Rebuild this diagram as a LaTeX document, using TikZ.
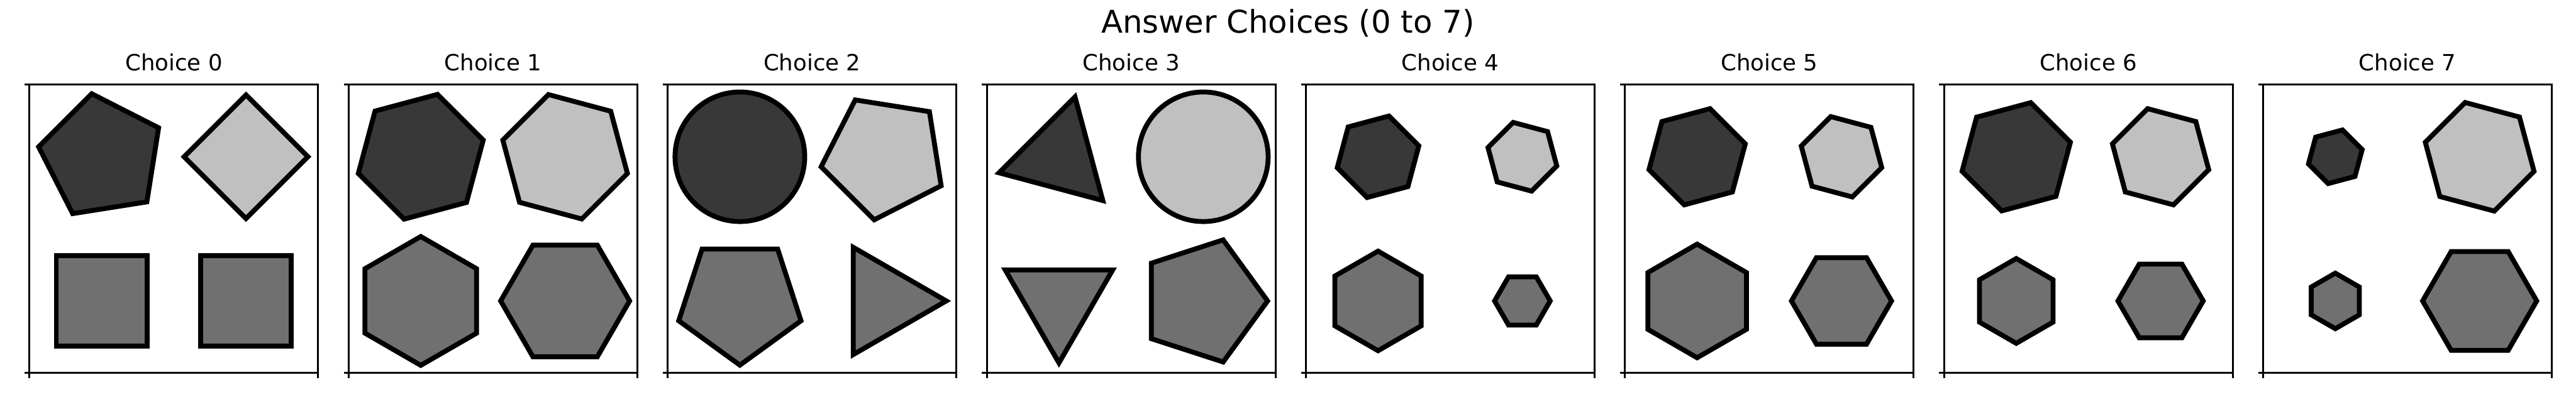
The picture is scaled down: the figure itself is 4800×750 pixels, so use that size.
\documentclass[tikz,border=0pt]{standalone}
\usepackage{fontspec}
\setmainfont{DejaVu Sans}
\definecolor{darkg}{RGB}{56,56,56}
\definecolor{lightg}{RGB}{192,192,192}
\definecolor{midg}{RGB}{112,112,112}
\tikzset{
  shp/.style={draw=black, line width=2.18bp, line join=miter},
  frame/.style={draw=black, line width=0.85bp},
  ttl/.style={font=\fontsize{10bp}{12bp}\selectfont, anchor=base, inner sep=0pt},
  sttl/.style={font=\fontsize{14bp}{17bp}\selectfont, anchor=base, inner sep=0pt},
}
% #1 sides, #2 cx, #3 cy, #4 outer radius, #5 angle of first vertex, #6 fill
\newcommand{\shapepoly}[6]{%
  \pgfmathsetmacro{\myrc}{#4-12.5/cos(180/#1)}%
  \pgfmathtruncatemacro{\mynm}{#1-1}%
  \begin{scope}[shift={(#2,#3)}]
    \draw[shp,fill=#6] (#5:\myrc) \foreach \j in {1,...,\mynm}{ -- ({#5+\j*360/#1}:\myrc)} -- cycle;
  \end{scope}}
\newcommand{\shapecirc}[4]{\draw[shp,fill=#4] (#1,#2) circle[radius={#3-12.5}];}
\newcommand{\mypanel}[2]{%
  \pgfmathsetmacro{\pl}{55+594.57*#1}%
  \node[ttl] (title#1) at (\pl+269,131.5) {Choice #1};
  \begin{scope}[shift={(\pl,158)}, x=0.08724bp, y=-0.08724bp]
    #2
    \draw[frame] (0,0) rectangle (1480,1480);
    \draw[frame] (0,0) -- (-25,0) (0,1480) -- (-25,1480) (0,1480) -- (0,1505) (1480,1480) -- (1480,1505);
  \end{scope}}
\begin{document}
\begin{tikzpicture}[x=0.24bp, y=-0.24bp]
  \fill[white] (0,0) rectangle (4800,750);
  \useasboundingbox (0,0) rectangle (4800,750);
  \node[sttl] (suptitle) at (2400,61.5) {Answer Choices (0 to 7)};

  \mypanel{0}{%
    \shapepoly{5}{370}{370}{343}{-99}{darkg}
    \shapepoly{4}{1110}{370}{335}{-90}{lightg}
    \shapepoly{4}{370}{1110}{346.5}{45}{midg}
    \shapepoly{4}{1110}{1110}{346.5}{45}{midg}}
  \mypanel{1}{%
    \shapepoly{6}{370}{370}{346}{-15}{darkg}
    \shapepoly{6}{1110}{370}{345}{15}{lightg}
    \shapepoly{6}{370}{1110}{345}{90}{midg}
    \shapepoly{6}{1110}{1110}{345}{0}{midg}}
  \mypanel{2}{%
    \shapecirc{370}{370}{345}{darkg}
    \shapepoly{5}{1110}{370}{343}{-117}{lightg}
    \shapepoly{5}{370}{1110}{345}{90}{midg}
    \shapepoly{3}{1110}{1110}{343}{0}{midg}}
  \mypanel{3}{%
    \shapepoly{3}{370}{370}{343}{-75}{darkg}
    \shapecirc{1110}{370}{345}{lightg}
    \shapepoly{3}{370}{1110}{343}{90}{midg}
    \shapepoly{5}{1110}{1110}{345}{0}{midg}}
  \mypanel{4}{%
    \shapepoly{6}{370}{370}{231}{-15}{darkg}
    \shapepoly{6}{1110}{370}{197}{15}{lightg}
    \shapepoly{6}{370}{1110}{270}{90}{midg}
    \shapepoly{6}{1110}{1110}{157}{0}{midg}}
  \mypanel{5}{%
    \shapepoly{6}{370}{370}{270}{-15}{darkg}
    \shapepoly{6}{1110}{370}{228}{15}{lightg}
    \shapepoly{6}{370}{1110}{306}{90}{midg}
    \shapepoly{6}{1110}{1110}{271}{0}{midg}}
  \mypanel{6}{%
    \shapepoly{6}{370}{370}{302}{-15}{darkg}
    \shapepoly{6}{1110}{370}{270}{15}{lightg}
    \shapepoly{6}{370}{1110}{232}{90}{midg}
    \shapepoly{6}{1110}{1110}{233}{0}{midg}}
  \mypanel{7}{%
    \shapepoly{6}{370}{370}{157}{-15}{darkg}
    \shapepoly{6}{1110}{370}{303}{15}{lightg}
    \shapepoly{6}{370}{1110}{157}{90}{midg}
    \shapepoly{6}{1110}{1110}{307}{0}{midg}}
\end{tikzpicture}
\end{document}
